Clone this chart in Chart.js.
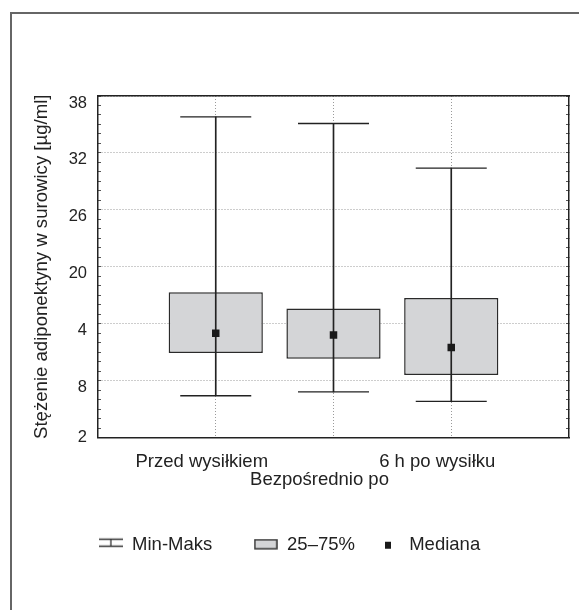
<!DOCTYPE html>
<html>
<head>
<meta charset="utf-8">
<script src="https://cdn.jsdelivr.net/npm/chart.js@4.4.0/dist/chart.umd.min.js"></script>
<style>
  html, body { margin: 0; padding: 0; background: #fff; }
  #wrap { position: relative; width: 579px; height: 610px; overflow: hidden; }
  #frame { position: absolute; left: 10px; top: 12px; width: 620px; height: 640px;
           border-left: 2px solid #666; border-top: 2px solid #666; }
  #chart { position: absolute; left: 0; top: 0; }
</style>
</head>
<body>
<div id="wrap">
  <div id="frame"></div>
  <canvas id="chart" width="579" height="610"></canvas>
</div>
<script>
// data
var categories = ['Przed wysiłkiem', 'Bezpośrednio po', '6 h po wysiłku'];
var catPos = [1, 2, 3];
var minVals = [6.4, 6.8, 5.8];
var maxVals = [35.8, 35.1, 30.4];
var q1Vals = [10.9, 10.3, 8.6];
var q3Vals = [17.3, 15.6, 16.7];
var medianVals = [13.0, 12.8, 11.5];
var yTickLabels = ['2', '8', '4', '20', '26', '32', '38'];
var legendLabels = ['Min-Maks    ', '25–75%', 'Mediana'];

var textFont = 'Liberation Sans, Arial, sans-serif';
var ink = '#222';

function makeIcon(w, h, draw) {
	var c = document.createElement('canvas');
	c.width = w;
	c.height = h;
	draw(c.getContext('2d'));
	return c;
}

var whiskerIcon = makeIcon(24, 16, function(g) {
	g.strokeStyle = '#333';
	g.lineWidth = 1.3;
	g.beginPath();
	g.moveTo(0, 2.5); g.lineTo(24, 2.5);
	g.moveTo(0, 9.5); g.lineTo(24, 9.5);
	g.moveTo(12, 2.5); g.lineTo(12, 9.5);
	g.stroke();
});
var boxIcon = makeIcon(24, 12, function(g) {
	g.fillStyle = '#d4d5d7';
	g.strokeStyle = '#333';
	g.lineWidth = 1.5;
	g.fillRect(1, 1, 22, 9);
	g.strokeRect(1, 1, 22, 9);
});
var medianIcon = makeIcon(24, 10, function(g) {
	g.fillStyle = '#1a1a1a';
	g.fillRect(9, 2, 6, 7);
});
var legendIcons = [whiskerIcon, boxIcon, medianIcon];

var boxData = catPos.map(function(x, i) { return {x: x, y: [q1Vals[i], q3Vals[i]]}; });
var whiskerData = catPos.map(function(x, i) { return {x: x, y: [minVals[i], maxVals[i]]}; });
var capData = catPos.map(function(x, i) { return {x: x, y: minVals[i]}; })
	.concat(catPos.map(function(x, i) { return {x: x, y: maxVals[i]}; }));
var medianData = catPos.map(function(x, i) { return {x: x, y: medianVals[i]}; });

// small inward tick marks on the side axes
var minorTicks = {
	type: 'linear',
	min: 2,
	max: 38,
	weight: 0,
	ticks: {display: false, stepSize: 1},
	grid: {display: true, drawOnChartArea: false, drawTicks: true, tickLength: -3, tickColor: '#555', tickWidth: 1},
	border: {display: false},
	afterFit: function(s) { s.width = 0; }
};

var ctx = document.getElementById('chart');

new Chart(ctx, {
	type: 'bar',
	data: {
		datasets: [
			{
				label: '25–75%',
				data: boxData,
				backgroundColor: '#d4d5d7',
				borderColor: '#2a2a2a',
				borderWidth: 1.5,
				borderSkipped: false,
				barPercentage: 0.8,
				categoryPercentage: 1,
				grouped: false,
				order: 3
			},
			{
				label: 'Min-Maks',
				data: whiskerData,
				backgroundColor: ink,
				borderWidth: 0,
				barThickness: 1,
				grouped: false,
				order: 2
			},
			{
				type: 'line',
				label: 'caps',
				data: capData,
				showLine: false,
				pointStyle: 'line',
				pointRadius: 35.5,
				pointBorderWidth: 1.3,
				pointBorderColor: ink,
				order: 1
			},
			{
				type: 'line',
				label: 'Mediana',
				data: medianData,
				showLine: false,
				pointStyle: 'rect',
				pointRadius: 5.3,
				pointBackgroundColor: '#1a1a1a',
				pointBorderWidth: 0,
				order: 0
			}
		]
	},
	options: {
		responsive: false,
		animation: false,
		layout: {
			autoPadding: false,
			padding: {left: 10, right: 10, top: 96, bottom: 46}
		},
		plugins: {
			tooltip: {enabled: false},
			legend: {
				position: 'bottom',
				align: 'center',
				labels: {
					usePointStyle: true,
					pointStyleWidth: 24,
					padding: 21,
					color: ink,
					font: {family: textFont, size: 18.5},
					generateLabels: function() {
						return legendLabels.map(function(t, i) {
							return {text: t, pointStyle: legendIcons[i], lineWidth: 0,
								fillStyle: '#fff', strokeStyle: '#fff', fontColor: ink, hidden: false, datasetIndex: i};
						});
					}
				}
			}
		},
		scales: {
			x: {
				type: 'linear',
				min: 0,
				max: 4,
				offset: false,
				ticks: {
					stepSize: 1,
					autoSkip: false,
					maxRotation: 0,
					padding: 16,
					labelOffset: -14,
					color: ink,
					font: {family: textFont, size: 18.5, lineHeight: 0.95},
					callback: function(v) {
						var i = catPos.indexOf(v);
						if (i < 0) return '';
						return i === 1 ? ['', categories[i]] : categories[i];
					}
				},
				grid: {
					offset: false,
					drawTicks: false,
					lineWidth: 1,
					color: function(c) {
						return (c.tick && catPos.indexOf(c.tick.value) >= 0) ? '#9a9a9a' : 'rgba(0,0,0,0)';
					}
				},
				border: {color: ink, width: 1.5, dash: [1, 2]},
				afterFit: function(s) {
					s.height = 77;
					s.paddingLeft = 0;
					s.paddingRight = 0;
				}
			},
			xTop: {
				type: 'linear',
				position: 'top',
				min: 0,
				max: 4,
				ticks: {display: false},
				grid: {display: false, drawTicks: false},
				border: {display: true, color: ink, width: 1.5},
				afterFit: function(s) { s.height = 0; }
			},
			y: {
				type: 'linear',
				min: 2,
				max: 38,
				weight: 1,
				ticks: {
					stepSize: 6,
					padding: 11,
					color: ink,
					font: {family: textFont, size: 16.5, lineHeight: 0.85},
					callback: function(v, i) {
						return i === 0 ? yTickLabels[i] : ['', yTickLabels[i]];
					}
				},
				grid: {drawTicks: false, color: '#9a9a9a', lineWidth: 1},
				border: {color: ink, width: 1.5, dash: [1, 2]},
				title: {
					display: true,
					text: 'Stężenie adiponektyny w surowicy [µg/ml]',
					color: ink,
					font: {family: textFont, size: 18.6},
					padding: {top: 21, bottom: 0}
				},
				afterFit: function(s) { s.width = 88; }
			},
			yMinorL: Object.assign({}, minorTicks, {position: 'left'}),
			yRight: Object.assign({}, minorTicks, {
				position: 'right',
				border: {display: true, color: ink, width: 1.5}
			})
		}
	}
});
</script>
</body>
</html>
